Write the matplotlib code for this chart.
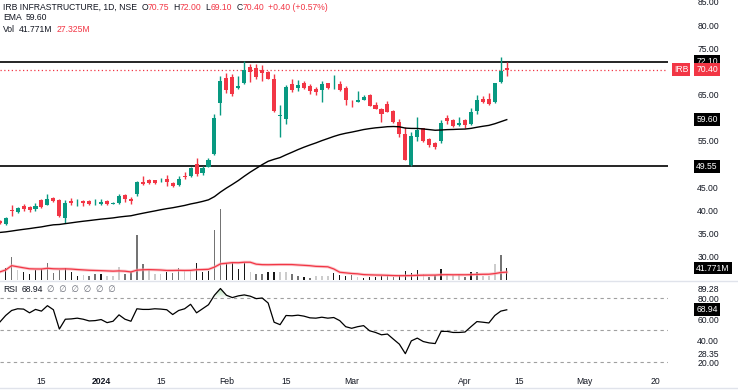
import matplotlib
matplotlib.use('Agg')
import matplotlib.pyplot as plt
import matplotlib.transforms as mtransforms
from matplotlib.patches import Polygon
import numpy as np
import pandas as pd

# IRB Infrastructure, NSE daily, 6 Dec 2023 .. 10 Apr 2024
opens = [37.7, 37.1, 40.1, 39.7, 41.0, 40.8, 40.3, 42.3, 41.3, 42.8,
         42.3, 38.3, 42.1, 41.8, 42.1, 42.1, 41.8, 41.5, 42.1, 41.5,
         41.6, 43.4, 42.6, 43.5, 46.2, 46.5, 46.6, 46.5, 46.8, 45.9,
         45.5, 47.4, 47.5, 50.0, 48.0, 49.5, 52.3, 63.1, 68.6, 68.8,
         66.4, 67.4, 71.0, 70.7, 70.2, 69.9, 68.4, 60.4, 59.7, 67.3,
         66.4, 67.6, 66.8, 66.2, 66.0, 67.5, 67.0, 67.3, 66.5, 63.0,
         63.5, 63.9, 64.9, 62.8, 61.8, 63.0, 61.5, 59.2, 56.5, 49.8,
         55.9, 57.7, 55.4, 54.6, 54.9, 60.0, 59.5, 58.4, 59.5, 58.7,
         61.5, 64.1, 64.1, 63.3, 67.8, 70.75]
highs = [37.9, 38.6, 41.2, 40.8, 41.4, 41.0, 41.6, 42.5, 43.6, 43.0,
         42.6, 42.3, 42.8, 42.5, 42.2, 42.2, 42.4, 42.6, 42.2, 41.8,
         43.6, 43.6, 43.0, 46.4, 47.5, 46.8, 46.7, 47.0, 47.6, 46.2,
         47.4, 48.3, 49.4, 51.4, 49.6, 51.3, 60.9, 69.0, 69.6, 69.4,
         69.1, 72.2, 71.7, 71.5, 71.3, 70.0, 69.4, 62.8, 67.0, 68.4,
         68.2, 68.0, 67.2, 66.6, 68.0, 67.6, 69.2, 68.0, 66.8, 63.9,
         65.7, 65.0, 65.1, 63.4, 62.1, 63.6, 61.6, 59.7, 58.1, 57.0,
         60.2, 57.9, 55.6, 54.8, 59.5, 60.5, 59.7, 60.1, 59.8, 62.2,
         64.9, 64.8, 65.4, 67.6, 73.0, 72.0]
lows = [37.2, 36.9, 38.8, 39.5, 40.0, 39.8, 40.0, 40.5, 41.1, 41.8,
        38.7, 37.4, 41.2, 41.0, 40.9, 41.2, 41.2, 41.3, 41.3, 41.4,
        41.5, 41.9, 41.5, 43.1, 45.6, 45.7, 45.8, 46.2, 45.2, 45.0,
        45.2, 46.8, 47.2, 47.4, 47.6, 49.3, 52.0, 60.5, 65.3, 64.8,
        66.2, 67.2, 67.8, 68.3, 68.0, 68.4, 61.3, 55.9, 58.6, 65.6,
        65.8, 66.2, 65.2, 64.9, 63.5, 66.3, 66.1, 65.8, 62.8, 62.3,
        63.4, 63.8, 62.5, 61.8, 59.0, 61.2, 58.8, 55.8, 50.8, 49.55,
        55.0, 54.8, 53.8, 53.3, 54.6, 58.6, 58.1, 58.3, 57.9, 58.5,
        60.9, 63.2, 62.8, 63.2, 67.5, 69.1]
closes = [37.4, 38.5, 40.0, 40.5, 40.3, 40.1, 41.0, 40.7, 42.6, 42.0,
          38.8, 41.7, 41.6, 41.9, 41.7, 41.4, 41.9, 41.9, 41.4, 41.7,
          43.2, 42.4, 42.0, 46.1, 45.8, 45.9, 45.9, 46.6, 46.1, 45.4,
          46.9, 47.2, 49.2, 47.9, 49.2, 50.8, 59.9, 67.9, 66.0, 65.1,
          66.9, 70.2, 69.9, 68.8, 69.7, 68.4, 61.5, 60.6, 66.6, 66.0,
          67.1, 66.4, 65.8, 65.5, 67.2, 66.5, 67.1, 66.0, 63.9, 62.9,
          63.8, 64.4, 62.6, 62.0, 60.8, 61.3, 59.1, 56.5, 50.9, 56.1,
          57.4, 55.0, 54.1, 53.8, 58.8, 59.4, 58.3, 58.9, 58.4, 61.3,
          63.8, 63.5, 63.0, 67.4, 70.0, 70.40]
# volume in millions, and shade group of each volume bar (0 dark, 1 mid, 2 light)
volume = [28, 41.8, 80, 34.8, 27.8, 21.9, 34.8, 37.2, 60.2, 24.4,
          33.8, 41.8, 28.9, 15, 17.4, 15, 21.9, 21.9, 15, 15,
          45.3, 21.9, 27.8, 157.7, 55.7, 33.8, 21.9, 21.9, 27.8, 24.4,
          42.8, 34.8, 33.8, 60.2, 28.9, 32.4, 174, 247, 58.1, 60.2,
          37.2, 58.1, 27.8, 21.9, 21.9, 28.9, 28.9, 27.8, 27.8, 21.9,
          15, 10.4, 8, 13.9, 15, 15, 25.4, 17.4, 15, 17.4,
          11.5, 5.9, 10.4, 9.4, 15, 15, 10.4, 18.4, 32.4, 25.4,
          34.8, 19.8, 11.5, 17.4, 38.7, 20.9, 17.4, 19.8, 11.5, 26.8,
          27.8, 15, 15, 55.0, 86.72, 41.771]
vol_group = [1, 0, 1, 2, 0, 0, 0, 0, 1, 1, 1, 0, 0, 0, 2, 1, 1, 0, 2, 2,
             2, 1, 1, 1, 1, 2, 2, 2, 0, 1, 1, 2, 2, 0, 0, 0, 1, 1, 0, 0,
             0, 0, 2, 1, 1, 0, 0, 2, 2, 1, 1, 0, 1, 2, 2, 2, 0, 0, 0, 1,
             2, 0, 0, 0, 0, 1, 1, 0, 0, 0, 0, 2, 1, 1, 0, 2, 2, 2, 1, 0,
             1, 2, 2, 2, 1, 0]
rsi = [57.3, 63.6, 68.3, 69.9, 69.6, 66.1, 69.3, 67.7, 72.8, 69.0,
       50.9, 60.1, 60.4, 61.1, 60.1, 58.5, 58.8, 59.8, 56.9, 58.2,
       64.2, 60.1, 58.2, 69.9, 69.3, 69.3, 69.9, 69.6, 69.0, 64.5,
       68.3, 69.9, 74.1, 66.1, 69.9, 73.7, 82.6, 88.9, 82.6, 80.4,
       82.0, 82.9, 81.7, 79.4, 80.0, 75.3, 57.3, 55.0, 63.6, 63.3,
       63.9, 63.0, 61.4, 61.1, 62.0, 61.1, 61.7, 58.8, 53.1, 51.6,
       53.1, 54.1, 49.3, 47.7, 45.5, 46.2, 41.4, 36.7, 27.8, 39.8,
       42.4, 39.2, 37.9, 37.3, 48.7, 48.7, 47.7, 47.7, 48.1, 53.1,
       57.9, 57.3, 56.6, 63.6, 67.7, 68.94]
levels = [72.10, 49.55]
ema_len = 50
ema_seed = 35.2
vol_ma_len = 20

# NSE session calendar (holidays removed, special Saturday session added)
holidays = ['2023-12-25', '2024-01-22', '2024-01-26', '2024-03-08', '2024-03-25',
            '2024-03-29', '2024-04-11', '2024-04-17', '2024-05-01']
extra_sessions = ['2024-03-02']
tick_dates = ['2023-12-15', '2024-01-01', '2024-01-15', '2024-02-01', '2024-02-15',
              '2024-03-01', '2024-04-01', '2024-04-15', '2024-05-02', '2024-05-20']
tick_labels = ['15', '2024', '15', 'Feb', '15', 'Mar', 'Apr', '15', 'May', '20']

days = pd.bdate_range('2023-12-06', '2024-05-31')
days = days[~days.isin(pd.to_datetime(holidays))].union(pd.to_datetime(extra_sessions))
tick_pos = [days.get_loc(pd.Timestamp(d)) for d in tick_dates]

o = np.array(opens); h = np.array(highs); l = np.array(lows); c = np.array(closes)
x = np.arange(len(c))

ema = []
e = ema_seed
for v in c:
    e = e + 2.0 / (ema_len + 1) * (v - e)
    ema.append(e)
ema = np.array(ema)
vol_ma = pd.Series(volume).rolling(vol_ma_len, min_periods=1).mean().to_numpy()

GREEN = '#089981'
RED = '#f23645'
TXT = '#131722'
FS = 6.2
plt.rcParams['font.family'] = ['Liberation Sans', 'DejaVu Sans']
plt.rcParams['font.size'] = FS

W, H = 738, 392
fig = plt.figure(figsize=(W / 100, H / 100), dpi=100)
plot_w = 668
ax = fig.add_axes([0, 1 - 280 / H, plot_w / W, 280 / H])
rax = fig.add_axes([0, 22 / H, plot_w / W, 89 / H])
vax = fig.add_axes(ax.get_position(), sharex=ax)

xmin, xmax = 0.05, 112.03
for a in (ax, rax, vax):
    a.set_xlim(xmin, xmax)
    for s in a.spines.values():
        s.set_visible(False)

# volume overlay
vcols = ['#161616', '#747474', '#cccccc']
vax.bar(x, volume, width=0.24, color=[vcols[g] for g in vol_group])
vax.plot(x, vol_ma, color='#f7a9b0', lw=2.2, alpha=0.6)
vax.plot(x, vol_ma, color=RED, lw=0.9)
vax.set_ylim(0, 975)
vax.axis('off')
vax.set_zorder(1)
ax.set_zorder(2)
ax.patch.set_visible(False)

# candles
up = c >= o
col = np.where(up, GREEN, RED)
ax.vlines(x, l, h, colors=col, lw=1.0, zorder=3)
ax.bar(x, np.maximum(np.abs(c - o), 0.12), bottom=np.minimum(o, c), width=0.68,
       color=col, zorder=4)
ax.plot(x, ema, color='#000000', lw=1.0, zorder=5)
for lv in levels:
    ax.axhline(lv, color='black', lw=1.2, zorder=2)
ax.axhline(c[-1], color=RED, lw=0.9, ls=(0, (1, 2)), zorder=2)
ax.set_ylim(25.04, 85.39)
ax.set_xticks([])
ax.yaxis.tick_right()
pt = [30, 35, 40, 45, 55, 65, 75, 80, 85]
ax.set_yticks(pt)
ax.set_yticklabels([f'{v:.2f}' for v in pt])
ax.tick_params(axis='y', length=0, pad=21, labelcolor=TXT, labelsize=FS)


# right-side value boxes
def box(axis, value, text, fc, xpx=707):
    tr = mtransforms.blended_transform_factory(fig.transFigure, axis.transData)
    axis.text(xpx / W, value, text, transform=tr, ha='center', va='center', color='white',
              fontsize=FS, clip_on=False, zorder=10,
              bbox=dict(boxstyle='square,pad=0.22', fc=fc, ec='none'))


box(ax, levels[0], f'{levels[0]:.2f}', 'black')
box(ax, c[-1], f'{c[-1]:.2f}', RED)
box(ax, c[-1], 'IRB', RED, xpx=681)
box(ax, ema[-1], f'{ema[-1]:.2f}', 'black')
box(ax, levels[1], f'{levels[1]:.2f}', 'black')
box(vax, volume[-1], f'{volume[-1]:.3f}M', 'black', xpx=713)

# RSI pane
rax.plot(x, rsi, color='black', lw=0.9, zorder=4)
for lv in (80, 50, 20):
    rax.axhline(lv, color='#a0a0a0', lw=0.8, ls=(0, (3, 3)))
rsi_a = np.array(rsi)
verts = list(zip(x, np.maximum(rsi_a, 80))) + list(zip(x[::-1], np.full(len(x), 80.0)))
poly = Polygon(verts, closed=True, fc='none', ec='none')
rax.add_patch(poly)
grad = np.linspace(0.5, 0.0, 64).reshape(-1, 1)
img = rax.imshow(np.dstack([np.full_like(grad, 0.30), np.full_like(grad, 0.69),
                            np.full_like(grad, 0.31), grad]),
                 extent=[xmin, xmax, 80, 90], origin='upper', aspect='auto', zorder=3)
img.set_clip_path(poly)
rax.set_ylim(12.5, 95.94)
rax.yaxis.tick_right()
rt = [20, 28.35, 40, 60, 80, 89.28]
rax.set_yticks(rt)
rax.set_yticklabels([f'{v:.2f}' for v in rt])
rax.tick_params(axis='y', length=0, pad=21, labelcolor=TXT, labelsize=FS)
box(rax, rsi[-1], f'{rsi[-1]:.2f}', 'black')
rax.set_xticks(tick_pos)
rax.set_xticklabels(tick_labels)
rax.tick_params(axis='x', length=0, pad=5, labelcolor=TXT, labelsize=FS)
rax.get_xticklabels()[1].set_fontweight('bold')

# pane separators
fig.add_artist(plt.Line2D([0, 1], [1 - 281 / H, 1 - 281 / H], color='#e0e3eb', lw=1))
fig.add_artist(plt.Line2D([0, 1], [1 - 388 / H, 1 - 388 / H], color='#e0e3eb', lw=1))


# legend lines
def chain(ypx, parts):
    prev = fig.text(3 / W, 1 - ypx / H, parts[0][0], color=parts[0][1], va='center',
                    ha='left', fontsize=FS)
    for txt, colr, gap in parts[1:]:
        prev = ax.annotate(txt, xy=(1, 0), xycoords=prev, xytext=(gap, 0),
                           textcoords='offset points', va='bottom', ha='left',
                           color=colr, fontsize=FS, annotation_clip=False)


chg = c[-1] - c[-2]
chain(7, [('IRB INFRASTRUCTURE, 1D, NSE', TXT), ('O', TXT, 3), (f'{o[-1]:.2f}', RED, 0),
          ('H', TXT, 3), (f'{h[-1]:.2f}', RED, 0), ('L', TXT, 3), (f'{l[-1]:.2f}', RED, 0),
          ('C', TXT, 3), (f'{c[-1]:.2f}', RED, 0),
          (f'{chg:+.2f} ({chg / c[-2] * 100:+.2f}%)', RED, 3)])
chain(18, [('EMA', TXT), (f'{ema[-1]:.2f}', TXT, 3)])
chain(30, [('Vol', TXT), (f'{volume[-1]:.3f}M', TXT, 3), (f'{vol_ma[-1]:.3f}M', RED, 3)])
chain(290, [('RSI', TXT), (f'{rsi[-1]:.2f}', TXT, 3),
            ('\u2205  \u2205  \u2205  \u2205  \u2205  \u2205', '#6a6d78', 3)])

fig.savefig('out.png', dpi=100)
